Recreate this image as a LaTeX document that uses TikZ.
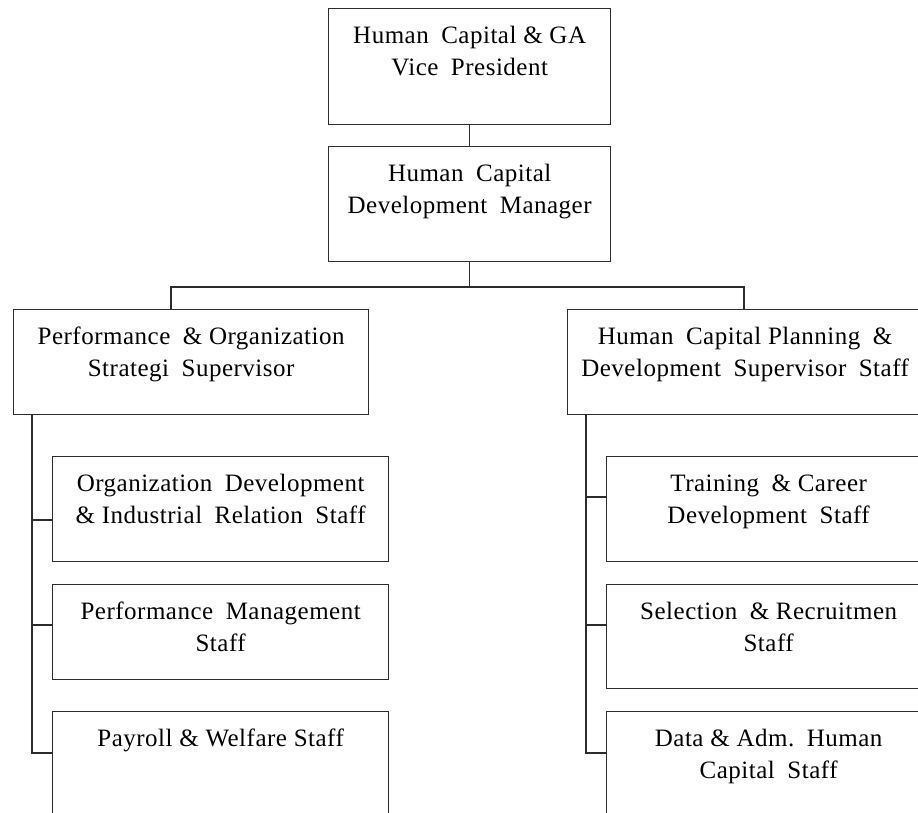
\documentclass[tikz,border=0pt]{standalone}
\usepackage{fontspec}
\setmainfont{Liberation Serif}
\newfontfamily\boxfont[LetterSpace=2]{Liberation Serif}
\definecolor{linec}{RGB}{45,45,45}
\newcommand\ws{\hspace{0.5em}}
\newcommand\boxtext[3]{\parbox[c][#2][t]{#1}{\centering\vspace*{12.6pt}\strut #3\par}}
\begin{document}
\begin{tikzpicture}[x=1pt,y=-1pt,
  box/.style={draw=linec,line width=1.3pt,inner sep=0pt,anchor=north west,font=\boxfont\fontsize{25}{32}\selectfont},
  conn/.style={draw=linec,line width=1.3pt}]
\useasboundingbox (0,0) rectangle (918,813);
\clip (0,0) rectangle (918,813);
\fill[white] (0,0) rectangle (918,813);
\node[box] (vp) at (328,8) {\boxtext{282pt}{116pt}{Human\ws Capital \& GA\\Vice\ws President}};
\node[box] (hcdm) at (328,146) {\boxtext{282pt}{115pt}{Human\ws Capital\\Development\ws Manager}};
\node[box] (pos) at (13,309) {\boxtext{355pt}{105pt}{Performance\ws \& Organization\\Strategi\ws Supervisor}};
\node[box] (hcps) at (567,309) {\boxtext{355pt}{105pt}{Human\ws Capital Planning\ws \&\\Development\ws Supervisor\ws Staff}};
\node[box] (odir) at (52,456) {\boxtext{336pt}{105pt}{Organization\ws Development\\\& Industrial\ws Relation\ws Staff}};
\node[box] (pm) at (52,584) {\boxtext{336pt}{95pt}{Performance\ws Management\\Staff}};
\node[box] (pw) at (52,711) {\boxtext{336pt}{130pt}{Payroll \& Welfare Staff}};
\node[box] (tcd) at (606,456) {\boxtext{324pt}{105pt}{Training\ws \& Career\\Development\ws Staff}};
\node[box] (sr) at (606,584) {\boxtext{324pt}{104pt}{Selection\ws \& Recruitmen\\Staff}};
\node[box] (dahc) at (606,711) {\boxtext{324pt}{130pt}{Data \& Adm.\ws Human\\Capital\ws Staff}};
\draw[conn] (vp.south) -- (hcdm.north);
\coordinate (jl) at (171,287);
\coordinate (jr) at (744,287);
\draw[conn] (hcdm.south) -- (hcdm.south |- jl);
\draw[conn] (jl |- pos.north) -- (jl) -- (jr) -- (jr |- hcps.north);
\coordinate (spl) at ([xshift=19pt]pos.south west);
\coordinate (spr) at ([xshift=19pt]hcps.south west);
\coordinate (l1) at ([yshift=-64pt]odir.north west);
\coordinate (l2) at ([yshift=-41pt]pm.north west);
\coordinate (l3) at ([yshift=-42pt]pw.north west);
\coordinate (r1) at ([yshift=-41pt]tcd.north west);
\coordinate (r2) at ([yshift=-41pt]sr.north west);
\coordinate (r3) at ([yshift=-42pt]dahc.north west);
\draw[conn] (spl) |- (l3);
\draw[conn] (spl |- l1) -- (l1);
\draw[conn] (spl |- l2) -- (l2);
\draw[conn] (spr) |- (r3);
\draw[conn] (spr |- r1) -- (r1);
\draw[conn] (spr |- r2) -- (r2);
\end{tikzpicture}
\end{document}
